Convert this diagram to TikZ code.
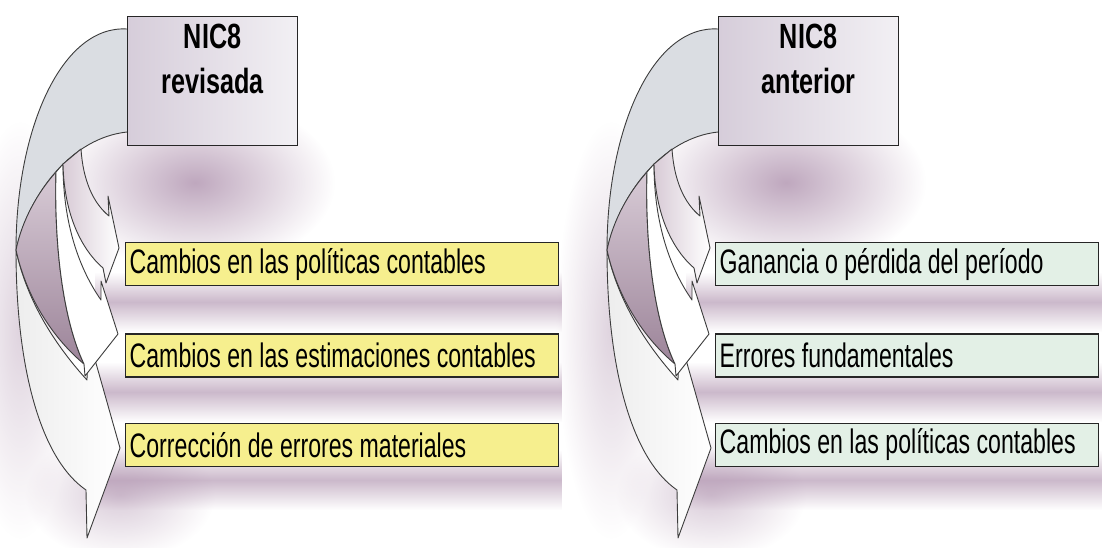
\documentclass[tikz,border=0pt]{standalone}
\usepackage{fontspec}
\newfontfamily\diafont[FakeStretch=0.68]{Liberation Sans}
\newfontfamily\headfont[FakeStretch=0.72]{Liberation Sans}
\usetikzlibrary{positioning,fadings}

\definecolor{boxyellow}{HTML}{F6EF8E}
\definecolor{boxmint}{HTML}{E3F0E6}
\definecolor{backgray}{HTML}{DADDE2}
\definecolor{hazepurple}{HTML}{A98AA8}
\definecolor{bandpink}{HTML}{9C8499}
\definecolor{bandlight}{HTML}{D8CBD6}
\definecolor{linegray}{HTML}{3C3C3C}
\definecolor{titleleft}{HTML}{D6CDDA}
\definecolor{titleright}{HTML}{F2F0F4}

\tikzfading[name=haze, inner color=transparent!25, outer color=transparent!100]
\tikzfading[name=band, top color=transparent!100, bottom color=transparent!100, middle color=transparent!40]

\tikzset{
	itembox/.style={draw=black!85, line width=1.4pt, anchor=north west, minimum height=43pt,
		inner sep=4pt, font=\diafont\fontsize{34}{38}\selectfont},
	titlebox/.style={draw=black!85, line width=1.3pt, anchor=north west, minimum height=129pt,
		left color=titleleft, right color=titleright},
	titletext/.style={inner sep=0pt, align=center, font=\headfont\bfseries\fontsize{35}{45}\selectfont},
	arrowline/.style={draw=linegray, line width=0.9pt, line join=round},
}

\begin{document}
\begin{tikzpicture}[x=1pt,y=-1pt]
	\useasboundingbox (0,0) rectangle (1105,547);

	% soft shadows
	\foreach \dx/\bx in {0/558,591/1098}{
		\begin{scope}[shift={(\dx,0)}]
			\fill[hazepurple, path fading=haze] (55,95) rectangle (335,270);
			\fill[hazepurple, path fading=haze, opacity=0.5] (-35,120) rectangle (75,540);
			\fill[hazepurple, path fading=haze, opacity=0.6] (25,430) rectangle (215,560);
		\end{scope}
		\foreach \t in {242,332,420}
			\fill[hazepurple, path fading=band] (\dx+95,\t+30) rectangle (\bx+4,\t+90);
	}

	% curved arrows
	\foreach \dx in {0,591}{
		\begin{scope}[shift={(\dx,0)}]
			\draw[arrowline, fill=backgray] (127,29) .. controls (62,25) and (16,128) .. (16,250)
				.. controls (30,192) and (72,138) .. (127,132);
			\draw[arrowline, left color=black!7, right color=white] (16,250) .. controls (16,372) and (42,456) .. (82,487)
				-- (86,490) -- (87,538) -- (120,448) -- (88,335) -- (87,380)
				.. controls (56,346) and (27,302) .. (16,250) -- cycle;
			\draw[arrowline, top color=bandlight, bottom color=bandpink] (16,250) .. controls (27,300) and (55,340) .. (84,364)
				.. controls (64,322) and (54,250) .. (56,172)
				.. controls (38,192) and (22,220) .. (16,250) -- cycle;
			\draw[arrowline, fill=white] (56,172) .. controls (54,250) and (64,322) .. (84,364)
				-- (85,376) -- (118,334) -- (101,281) -- (101,300)
				.. controls (80,270) and (63,225) .. (63,164) -- cycle;
			\draw[arrowline, left color=bandlight, right color=white] (63,164) .. controls (64,215) and (82,250) .. (103,268)
				-- (106,283) -- (119,248) -- (108,196) -- (109,216)
				.. controls (93,203) and (83,180) .. (81,149) -- cycle;
		\end{scope}
	}

	% NIC8 revisada
	\node[titlebox, minimum width=170pt] (revbox) at (127,16) {};
	\node[titletext, below=8pt of revbox.north] (revtitle) {NIC8\\revisada};
	\node[itembox, fill=boxyellow] (rev1) at (125,242) {\makebox[425pt][l]{Cambios en las políticas contables}};
	\node[itembox, fill=boxyellow, below=47pt of rev1] (rev2) {\makebox[425pt][l]{Cambios en las estimaciones contables}};
	\node[itembox, fill=boxyellow, below=45pt of rev2] (rev3) {\makebox[425pt][l]{Corrección de errores materiales}};

	% NIC8 anterior
	\node[titlebox, minimum width=180pt] (antbox) at (718,16) {};
	\node[titletext, below=8pt of antbox.north] (anttitle) {NIC8\\anterior};
	\node[itembox, fill=boxmint] (ant1) at (715,242) {\makebox[375pt][l]{Ganancia o pérdida del período}};
	\node[itembox, fill=boxmint, below=47pt of ant1] (ant2) {\makebox[375pt][l]{Errores fundamentales}};
	\node[itembox, fill=boxmint, below=45pt of ant2] (ant3) {\makebox[375pt][l]{Cambios en las políticas contables}};
\end{tikzpicture}
\end{document}
